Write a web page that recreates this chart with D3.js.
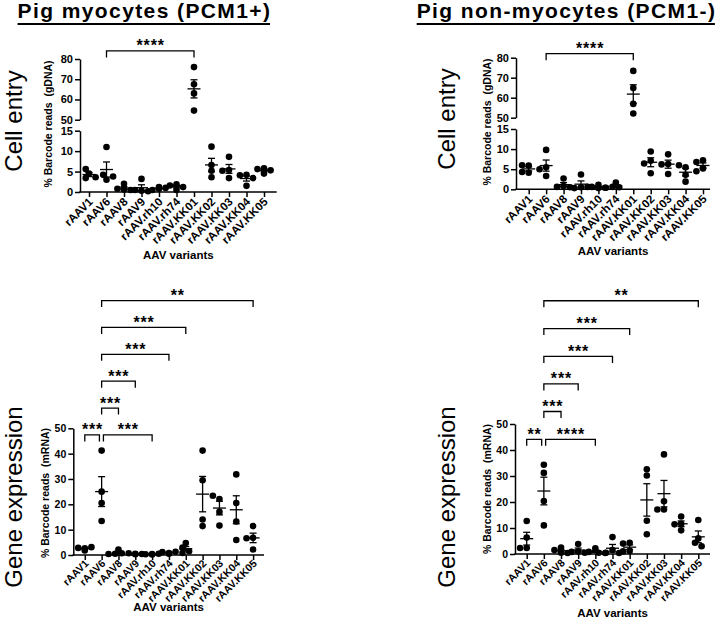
<!DOCTYPE html>
<html>
<head>
<meta charset="utf-8">
<script src="https://cdn.jsdelivr.net/npm/d3@7"></script>
<style>
body { margin: 0; background: #fff; }
svg { font-family: "Liberation Sans", Arial, sans-serif; }
.tick text { font-weight: bold; }
</style>
</head>
<body>
<div id="chart"></div>
<script>
// categories
const variants = ["rAAV1", "rAAV6", "rAAV8", "rAAV9", "rAAV.rh10", "rAAV.rh74",
    "rAAV.KK01", "rAAV.KK02", "rAAV.KK03", "rAAV.KK04", "rAAV.KK05"];

// % barcode reads, 4 animals per variant
const entryMyo = [
    [4.5, 5.6, 3.4, 3.6], [11.0, 3.0, 4.2, 3.8], [2.0, 0.6, 0.8, 0.5], [3.2, 0.3, 0.5, 0.2],
    [1.2, 0.5, 1.0, 0.8], [1.9, 1.6, 1.2, 0.5], [76.0, 67.5, 63.0, 54.5], [11.1, 6.6, 5.2, 3.6],
    [8.6, 5.4, 5.2, 3.4], [4.2, 4.1, 3.4, 1.5], [5.8, 5.6, 5.3, 4.5]
];
const entryNonMyo = [
    [5.9, 6.0, 4.1, 4.3], [9.8, 5.5, 5.0, 3.3], [2.7, 0.8, 0.6, 0.5], [3.7, 0.5, 0.3, 0.6],
    [1.1, 0.6, 0.4, 0.3], [1.7, 0.6, 0.5, 0.4], [73.4, 64.8, 56.9, 52.1], [9.4, 7.1, 6.4, 4.0],
    [8.7, 6.3, 6.2, 3.8], [5.5, 6.0, 3.6, 1.9], [7.2, 6.8, 5.2, 4.5]
];
const exprMyo = [
    [1.8, 2.8, 3.1, 2.6], [41.2, 25.0, 20.5, 13.4], [2.2, 0.5, 0.7, 0.4], [0.5, 0.7, 0.4, 0.3],
    [0.2, 0.3, 0.5, 0.4], [0.5, 1.2, 1.3, 0.8], [4.7, 2.9, 1.5, 0.8], [41.2, 29.5, 14.0, 11.4],
    [22.1, 23.4, 17.0, 11.6], [31.8, 20.5, 13.2, 5.9], [11.4, 6.8, 6.6, 2.2]
];
const exprNonMyo = [
    [12.7, 6.3, 2.3, 2.3], [34.3, 31.2, 20.4, 11.0], [2.5, 1.5, 0.5, 0.4], [3.8, 1.0, 0.8, 0.5],
    [2.2, 0.8, 0.5, 0.4], [6.5, 1.5, 0.5, 0.4], [4.3, 4.0, 1.2, 1.0], [32.6, 30.2, 12.8, 7.6],
    [38.3, 20.3, 17.1, 17.1], [14.4, 11.6, 11.4, 9.1], [13.1, 6.0, 4.3, 3.0]
];

// axis ticks
const entryLowTicks = [0, 5, 10, 15];
const entryHighTicks = [50, 60, 70, 80];
const exprTicks = [0, 10, 20, 30, 40, 50];

// significance brackets: [from, to, label, height in data units]
const entryMyoSig = [["rAAV6", "rAAV.KK01", "****", 84]];
const entryNonMyoSig = [["rAAV6", "rAAV.KK01", "****", 82]];
const exprMyoSig = [
    ["rAAV1", "rAAV6", "***", 47.4], ["rAAV6", "rAAV.rh10", "***", 47.4],
    ["rAAV6", "rAAV8", "***", 58.0], ["rAAV6", "rAAV9", "***", 68.6],
    ["rAAV6", "rAAV.rh74", "***", 79.2], ["rAAV6", "rAAV.KK01", "***", 89.8],
    ["rAAV6", "rAAV.KK05", "**", 100.4]
];
const exprNonMyoSig = [
    ["rAAV1", "rAAV6", "**", 44.1], ["rAAV6", "rAAV.rh10", "****", 44.1],
    ["rAAV6", "rAAV8", "***", 54.8], ["rAAV6", "rAAV9", "***", 65.4],
    ["rAAV6", "rAAV.rh74", "***", 76.0], ["rAAV6", "rAAV.KK01", "***", 86.7],
    ["rAAV6", "rAAV.KK05", "**", 97.4]
];

const width = 718, height = 622;
const r = 3.3;

const svg = d3.select("#chart").append("svg")
    .attr("width", width)
    .attr("height", height);

// titles
function title(text, cx) {
    const t = svg.append("text")
        .attr("x", cx).attr("y", 17.5)
        .attr("text-anchor", "middle")
        .style("font-size", "21px").style("font-weight", "bold")
        .style("letter-spacing", "1.4px")
        .text(text);
    const bb = t.node().getBBox();
    svg.append("line")
        .attr("x1", bb.x).attr("x2", bb.x + bb.width - 1.4)
        .attr("y1", 24).attr("y2", 24)
        .attr("stroke", "#000").attr("stroke-width", 2);
}
title("Pig myocytes (PCM1+)", 144.5);
title("Pig non-myocytes (PCM1-)", 566.5);

// row labels
function rowLabel(text, x, cy) {
    svg.append("text")
        .attr("transform", "translate(" + x + "," + cy + ") rotate(-90)")
        .attr("text-anchor", "middle")
        .style("font-size", "24px")
        .text(text);
}
rowLabel("Cell entry", 22, 121);
rowLabel("Cell entry", 455, 119);
rowLabel("Gene expression", 22, 497);
rowLabel("Gene expression", 455, 497);

function swarm(vals, yOf) {
    const placed = [];
    vals.forEach(function(v) {
        const p = {v: v, y: yOf(v), dx: 0};
        const steps = [0, -1, 1, -2, 2, -3, 3];
        for (const s of steps) {
            const dx = s * r;
            if (placed.every(q => Math.hypot(q.dx - dx, q.y - p.y) >= r * 1.5)) { p.dx = dx; break; }
        }
        placed.push(p);
    });
    return placed;
}

function drawPanel(cfg) {
    const g = svg.append("g");

    const x = d3.scalePoint().domain(variants).range([cfg.first, cfg.last]);

    const segs = cfg.segments.map(s => ({
        y: d3.scaleLinear().domain(s.domain).range(s.range),
        ticks: s.ticks,
        domain: s.domain
    }));
    function segFor(v) {
        for (const s of segs) if (v >= s.domain[0] && v <= s.domain[1]) return s;
        return segs[segs.length - 1];
    }
    function yOf(v) { return segFor(v).y(v); }

    // y axis segments
    segs.forEach(s => {
        g.append("g")
            .attr("transform", "translate(" + cfg.x0 + ",0)")
            .call(d3.axisLeft(s.y).tickValues(s.ticks).tickSize(5).tickSizeOuter(0).tickPadding(2))
            .call(a => a.selectAll("path, line").attr("stroke", "#000").attr("stroke-width", 1.5))
            .call(a => a.selectAll("text").style("font-size", cfg.yFont + "px"));
    });

    // x axis
    const xa = g.append("g")
        .attr("transform", "translate(0," + cfg.yBottom + ")")
        .call(d3.axisBottom(x).tickSize(5).tickSizeOuter(0));
    xa.select(".domain").remove();
    xa.selectAll("line").attr("stroke", "#000").attr("stroke-width", 1.5);
    xa.selectAll("text")
        .style("font-size", cfg.xFont + "px")
        .attr("text-anchor", "end")
        .attr("x", 0).attr("y", 0).attr("dy", null)
        .attr("transform", "translate(4," + cfg.labelDy + ") rotate(-45)");
    g.append("line")
        .attr("x1", cfg.x0 - 0.75).attr("x2", cfg.x1)
        .attr("y1", cfg.yBottom).attr("y2", cfg.yBottom)
        .attr("stroke", "#000").attr("stroke-width", 1.5);

    // y label
    g.append("text")
        .attr("transform", "translate(" + cfg.ylabelX + "," + cfg.ylabelY + ") rotate(-90)")
        .attr("text-anchor", "middle")
        .attr("dy", "0.35em")
        .style("font-size", "10.5px").style("font-weight", "bold")
        .style("white-space", "pre")
        .text(cfg.ylabel);

    // x label
    g.append("text")
        .attr("x", (cfg.x0 + cfg.x1) / 2).attr("y", cfg.xlabelY)
        .attr("text-anchor", "middle")
        .style("font-size", "11.5px").style("font-weight", "bold")
        .text("AAV variants");

    // points and mean +/- SEM
    cfg.data.forEach((vals, i) => {
        const cx = x(variants[i]);
        const pts = swarm(vals, yOf);
        g.selectAll(null).data(pts).enter().append("circle")
            .attr("cx", d => cx + d.dx)
            .attr("cy", d => d.y)
            .attr("r", r)
            .attr("fill", "#000");

        const m = d3.mean(vals);
        const sem = d3.deviation(vals) / Math.sqrt(vals.length);
        const ys = segFor(m).y;
        const bar = g.append("g").attr("stroke", "#000").attr("stroke-width", 1.3);
        bar.append("line").attr("x1", cx - 6.5).attr("x2", cx + 6.5).attr("y1", ys(m)).attr("y2", ys(m));
        bar.append("line").attr("x1", cx).attr("x2", cx).attr("y1", ys(m - sem)).attr("y2", ys(m + sem));
        [m - sem, m + sem].forEach(v => {
            bar.append("line").attr("x1", cx - 3.5).attr("x2", cx + 3.5).attr("y1", ys(v)).attr("y2", ys(v));
        });
    });

    // significance brackets
    const top = segs[segs.length - 1].y;
    cfg.sig.forEach(s => {
        let xa1 = x(s[0]), xb = x(s[1]);
        cfg.sig.forEach(o => {
            if (o === s || o[3] !== s[3]) return;
            if (o[0] === s[1]) xb -= 2.2;
            if (o[1] === s[0]) xa1 += 1.8;
        });
        const yb = top(s[3]);
        g.append("path")
            .attr("d", "M" + xa1 + "," + (yb + 6.5) + "V" + yb + "H" + xb + "V" + (yb + 6.5))
            .attr("fill", "none").attr("stroke", "#000").attr("stroke-width", 1.3);
        g.append("text")
            .attr("x", (xa1 + xb) / 2 + 0.4).attr("y", yb + 0.5)
            .attr("text-anchor", "middle")
            .style("font-size", "16px").style("font-weight", "bold")
            .style("letter-spacing", "0.8px")
            .text(s[2]);
    });
}

drawPanel({
    data: entryMyo, sig: entryMyoSig, xFont: 11.5, yFont: 11, labelDy: 10.5,
    x0: 80, x1: 276.7, first: 89, last: 264, yBottom: 192,
    segments: [
        {domain: [0, 15], range: [192, 130.7], ticks: entryLowTicks},
        {domain: [50, 80], range: [119.7, 59], ticks: entryHighTicks}
    ],
    ylabel: "% Barcode reads  (gDNA)", ylabelX: 48, ylabelY: 124, xlabelY: 259
});
drawPanel({
    data: entryNonMyo, sig: entryNonMyoSig, xFont: 11.5, yFont: 11, labelDy: 10.5,
    x0: 516, x1: 710, first: 528.7, last: 703, yBottom: 189.3,
    segments: [
        {domain: [0, 15], range: [189.3, 129], ticks: entryLowTicks},
        {domain: [50, 80], range: [117.7, 57.7], ticks: entryHighTicks}
    ],
    ylabel: "% Barcode reads  (gDNA)", ylabelX: 487, ylabelY: 122, xlabelY: 255
});
drawPanel({
    data: exprMyo, sig: exprMyoSig, xFont: 10.5, yFont: 10.5, labelDy: 9,
    x0: 73.3, x1: 264, first: 84.8, last: 253.1, yBottom: 555,
    segments: [{domain: [0, 50], range: [555, 428.3], ticks: exprTicks}],
    ylabel: "% Barcode reads  (mRNA)", ylabelX: 45, ylabelY: 493, xlabelY: 611
});
drawPanel({
    data: exprNonMyo, sig: exprNonMyoSig, xFont: 10.5, yFont: 10.5, labelDy: 9.5,
    x0: 515, x1: 710, first: 526.7, last: 698.3, yBottom: 554,
    segments: [{domain: [0, 50], range: [554, 424], ticks: exprTicks}],
    ylabel: "% Barcode reads  (mRNA)", ylabelX: 487, ylabelY: 489, xlabelY: 617
});
</script>
</body>
</html>
